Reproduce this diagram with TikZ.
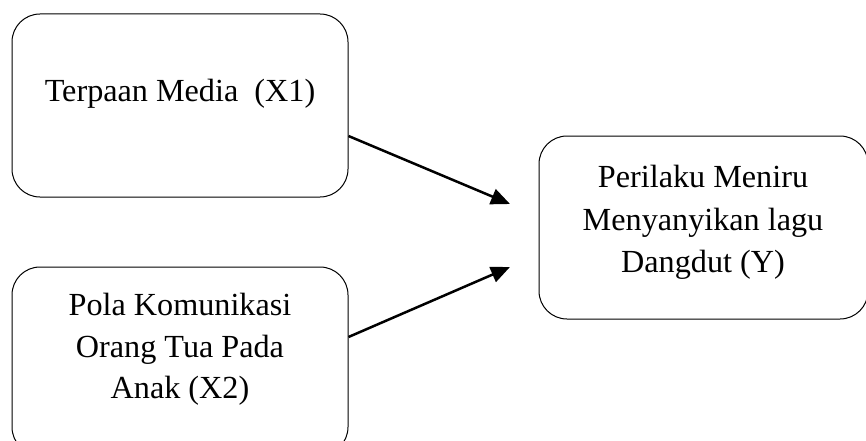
\documentclass[tikz,border=0pt]{standalone}
\usepackage{fontspec}
\setmainfont{Liberation Serif}
\usetikzlibrary{arrows.meta}
\begin{document}
\begin{tikzpicture}[x=1pt,y=-1pt,
  boxstyle/.style={draw=black, line width=1pt, rounded corners=28pt, inner sep=0pt},
  txt/.style={font=\fontsize{32.2}{42}\selectfont, anchor=base, inner sep=0pt},
  arr/.style={line width=2.5pt, -{Triangle[length=19pt,width=16pt]}}]
\clip (0,0) rectangle (866,441);
\node[boxstyle, minimum width=336pt, minimum height=183pt] (b1) at (180,105.5) {};
\node[boxstyle, minimum width=336pt, minimum height=188pt] (b2) at (180,361) {};
\node[boxstyle, minimum width=329pt, minimum height=183pt] (b3) at (703.5,227.5) {};
\node[txt] (t1) at (180,102) {Terpaan Media\ \ (X1)};
\node[txt] (t2a) at (180,315) {Pola Komunikasi};
\node[txt] (t2b) at (180,357) {Orang Tua Pada};
\node[txt] (t2c) at (180,398) {Anak (X2)};
\node[txt] (t3a) at (703,187) {Perilaku Meniru};
\node[txt] (t3b) at (703,230) {Menyanyikan lagu};
\node[txt] (t3c) at (703,272) {Dangdut (Y)};
\coordinate (e1) at (510,204);
\coordinate (e2) at (510,267);
\draw[arr] ([yshift=-30.5pt]b1.east) -- (e1);
\draw[arr] ([yshift=24pt]b2.east) -- (e2);
\end{tikzpicture}
\end{document}
